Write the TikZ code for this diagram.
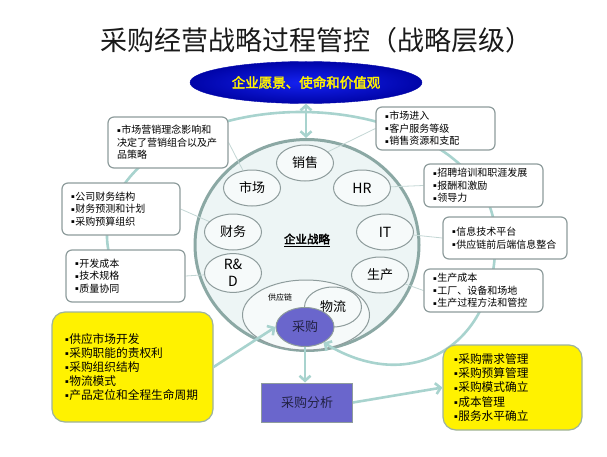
\documentclass[tikz,border=0pt]{standalone}
\usepackage{fontspec}
\setmainfont{Noto Sans CJK SC}[AutoFakeBold=2.5]
\newfontfamily\dejavu{DejaVu Sans}
\usetikzlibrary{shapes.geometric, positioning, arrows.meta, backgrounds}
\definecolor{titlec}{HTML}{1A1A1A}
\definecolor{visin}{HTML}{1522F2}
\definecolor{visout}{HTML}{0004A8}
\definecolor{ringc}{HTML}{8BA8A4}
\definecolor{ringfill}{HTML}{EDF5F5}
\definecolor{unitc}{HTML}{F6FAFA}
\definecolor{edgec}{HTML}{8E9C9C}
\definecolor{buyc}{HTML}{6A66CC}
\definecolor{buytext}{HTML}{222244}
\definecolor{hotedge}{HTML}{9DB39F}
\definecolor{flowc}{HTML}{A8D3CE}
\definecolor{linkc}{HTML}{C3D6D4}
\newcommand{\bul}{\raisebox{0.3ex}{\dejavu\fontsize{5.5}{6}\selectfont\char"25AA}\hspace{0.6pt}}

\begin{document}
\begin{tikzpicture}[x=1pt,y=1pt,>={Straight Barb[length=5pt,width=11pt]},
  unit/.style={ellipse,draw=edgec,line width=1pt,fill=unitc,minimum width=57pt,minimum height=36pt,inner sep=0pt,font=\fontsize{13}{14}\selectfont},
  note/.style={draw=edgec,line width=1.2pt,rounded corners=6pt,fill=white,align=left,inner xsep=9pt,inner ysep=2pt,font=\fontsize{10}{12.5}\selectfont},
  hot/.style={note,fill=yellow,draw=hotedge,rounded corners=13pt,inner xsep=13pt,font=\fontsize{11.7}{14.2}\selectfont},
  buyer/.style={fill=buyc,draw=edgec,line width=1pt,text=buytext,font=\fontsize{13}{14}\selectfont},
  link/.style={draw=linkc,line width=0.8pt},
  flow/.style={draw=flowc,line width=2.6pt}]
\useasboundingbox (0,0) rectangle (607,456);

\node[font=\fontsize{27}{30}\selectfont,text=titlec] (title) at (316,416) {采购经营战略过程管控（战略层级）};
\node[ellipse,minimum width=232pt,minimum height=42pt,inner color=visin,outer color=visout,draw=visout,text=yellow,font=\bfseries\fontsize{13.5}{15}\selectfont] (vision) at (306,373.5) {企业愿景、使命和价值观};

% ring members
\node[unit] (sales) at (305,293) {销售};
\node[unit] (mkt) at (252,268) {市场};
\node[unit,font=\fontsize{14}{15}\selectfont] (hr) at (362,268) {HR};
\node[unit] (fin) at (233,224) {财务};
\node[unit,font=\fontsize{14}{15}\selectfont] (it) at (385,224) {IT};
\node[unit,align=center,font=\fontsize{14}{17}\selectfont] (rd) at (233,183) {R\&\\D};
\node[unit] (prod) at (380,181) {生产};
\node[font=\bfseries\fontsize{11.5}{13}\selectfont] (strategy) at (307,216) {\underline{企业战略}};

\node[font=\fontsize{8}{9}\selectfont] (chainlab) at (280,159) {供应链};
\node[unit,minimum height=40pt] (logis) at (333,149) {物流};
\node[ellipse,buyer,minimum width=58pt,minimum height=39pt] (buy) at (305,129) {采购};

% notes
\node[note,text width=102pt,minimum height=51pt] (boxA) at (168,313.5) {\bul 市场营销理念影响和\\决定了营销组合以及产\\品策略};
\node[note,text width=100pt,minimum height=52pt] (boxB) at (121,247) {\bul 公司财务结构\\\bul 财务预测和计划\\\bul 采购预算组织};
\node[note,text width=101pt,minimum height=52pt] (boxC) at (125.5,180) {\bul 开发成本\\\bul 技术规格\\\bul 质量协同};
\node[note,text width=101pt,minimum height=43pt] (boxS) at (435.5,327.5) {\bul 市场进入\\\bul 客户服务等级\\\bul 销售资源和支配};
\node[note,text width=101pt,minimum height=43pt] (boxH) at (483.5,270.5) {\bul 招聘培训和职涯发展\\\bul 报酬和激励\\\bul 领导力};
\node[note,text width=106pt,minimum height=42pt] (boxI) at (505,218) {\bul 信息技术平台\\\bul 供应链前后端信息整合};
\node[note,text width=101pt,minimum height=43pt] (boxP) at (483.5,165.5) {\bul 生产成本\\\bul 工厂、设备和场地\\\bul 生产过程方法和管控};

\node[hot,text width=135pt,minimum height=110pt] (needL) at (132.5,89) {\bul 供应市场开发\\\bul 采购职能的责权利\\\bul 采购组织结构\\\bul 物流模式\\\bul 产品定位和全程生命周期};
\node[hot,text width=117pt,minimum height=85pt,inner xsep=11pt] (needR) at (512.5,68.5) {\bul 采购需求管理\\\bul 采购预算管理\\\bul 采购模式确立\\\bul 成本管理\\\bul 服务水平确立};
\node[buyer,minimum width=91pt,minimum height=39pt] (ana) at (307,53.5) {采购分析};

\begin{scope}[on background layer]
\node[ellipse,minimum width=224pt,minimum height=211pt,draw=ringc,line width=3pt,fill=ringfill] (core) at (307,211) {};
\node[ellipse,draw=edgec,line width=1pt,fill=unitc,minimum width=127pt,minimum height=70pt] (chain) at (306,141) {};
\coordinate (loopc) at (301,221);
\draw[flow,->] ([shift={(205:194 and 123)}]loopc) arc[start angle=205,end angle=0,x radius=194,y radius=123]
  .. controls (500,115) and (415,58) .. (buy.-40);
\path[link] (boxA.east) edge (mkt)
  (boxB.east) edge (fin)
  (boxC.east) edge (rd)
  (boxS.west) edge (sales)
  (boxH.west) edge (hr)
  (boxI.west) edge (it)
  (boxP.west) edge (prod);
\end{scope}

\draw[flow,<->] (vision.south) -- (vision.south |- core.north);
\draw[flow,->] (needL.east) -- (buy.west);
\draw[flow,->] (buy.south) -- (buy.south |- ana.north);
\draw[flow,->] (ana.east) -- (needR.west);
\end{tikzpicture}
\end{document}
